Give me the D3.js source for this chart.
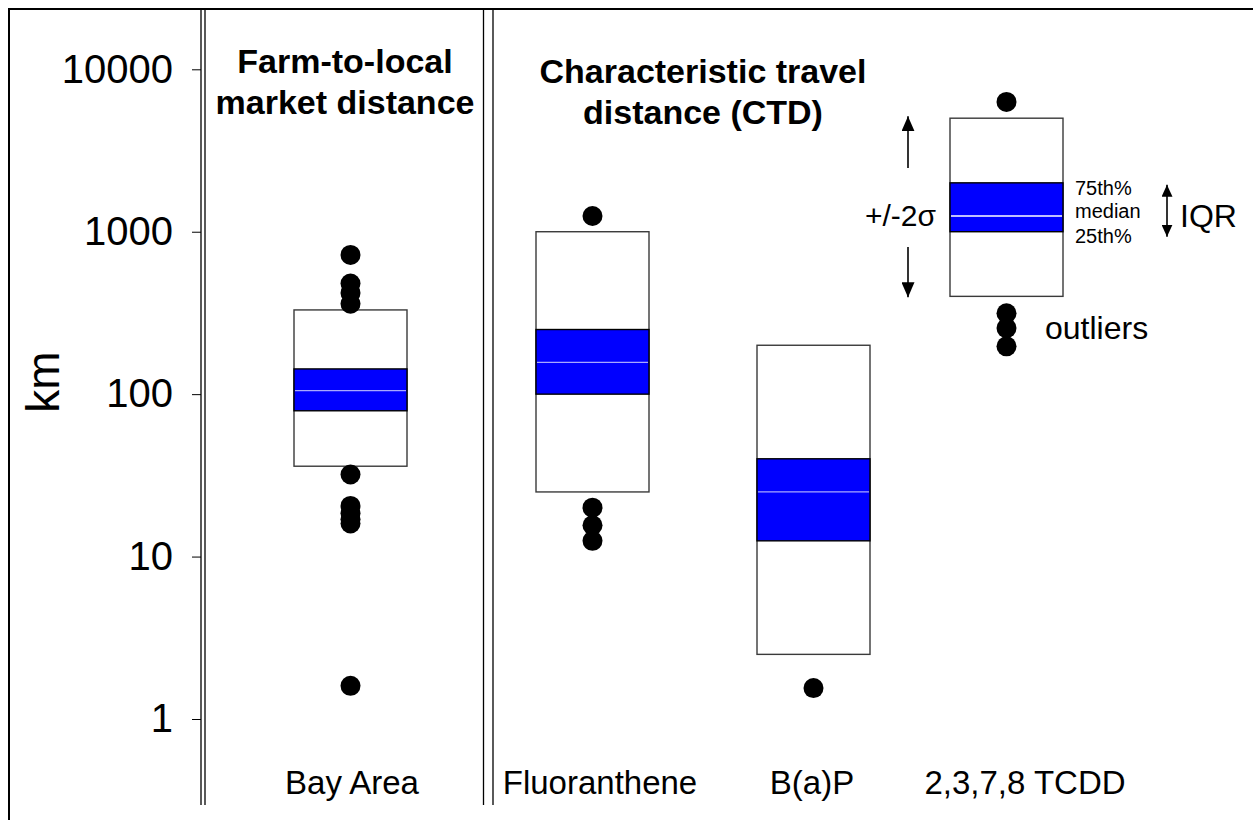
<!DOCTYPE html>
<html>
<head>
<meta charset="utf-8">
<script src="https://cdn.jsdelivr.net/npm/d3@7"></script>
<style>
  body { margin: 0; background: #fff; }
  text { font-family: Arial, "Liberation Sans", sans-serif; fill: #000; }
</style>
</head>
<body>
<div id="chart"></div>
<script>
// data (km, log scale)
const categories = ["Bay Area", "Fluoranthene", "B(a)P", "2,3,7,8 TCDD"];
const lowerSigma = [36, 25, 2.5, 400];     // -2 sigma (box bottom)
const upperSigma = [330, 1000, 200, 5000]; // +2 sigma (box top)
const q25 = [79, 100, 12.5, 1000];
const q75 = [143, 250, 40, 2000];
const medians = [105, 157, 25, 1250];
const outliers = [
  [720, 480, 420, 360, 32, 20.5, 18.5, 17, 16, 1.6],
  [1250, 20, 15.6, 12.5],
  [1.55],
  [6300, 315, 255, 197]
];
const yTicks = [1, 10, 100, 1000, 10000];

const width = 1253, height = 820;

const svg = d3.select("#chart").append("svg")
  .attr("width", width)
  .attr("height", height);

var y = d3.scaleLog()
  .domain([1, 10000])
  .range([719, 69.3]);

// box centres are not evenly spaced in the original
var x = d3.scaleOrdinal()
  .domain(categories)
  .range([350.5, 592.5, 813.5, 1006.5]);

var labelX = d3.scaleOrdinal()
  .domain(categories)
  .range([352, 600, 812, 1025]);

const boxW = 113, dotR = 10;

// frame (only left + top edges are in the picture)
svg.append("path")
  .attr("d", "M9,820V9H1253")
  .attr("fill", "none")
  .attr("stroke", "#000")
  .attr("stroke-width", 2);

// double vertical rules
[201, 205, 483.5, 493].forEach(function(px) {
  svg.append("line")
    .attr("x1", px).attr("x2", px)
    .attr("y1", 10).attr("y2", 805)
    .attr("stroke", "#000")
    .attr("stroke-width", 1.3);
});

// y axis
var yAxis = svg.append("g")
  .attr("transform", "translate(201,0)")
  .call(d3.axisLeft(y).tickValues(yTicks).tickFormat(d3.format("d")).tickSize(9).tickPadding(19));
yAxis.select(".domain").remove();
yAxis.selectAll("line").attr("stroke", "#000");
yAxis.selectAll("text")
  .style("font-size", "40px")
  .attr("font-family", null);

svg.append("text")
  .attr("transform", "translate(59,382) rotate(-90)")
  .attr("text-anchor", "middle")
  .style("font-size", "46px")
  .text("km");

// panel titles
function title(lines, cx, y0) {
  var t = svg.append("text")
    .attr("text-anchor", "middle")
    .style("font-size", "34px")
    .style("font-weight", "bold");
  lines.forEach(function(l, i) {
    t.append("tspan").attr("x", cx).attr("y", y0 + i * 41).text(l);
  });
}
title(["Farm-to-local", "market distance"], 345, 73);
title(["Characteristic travel", "distance (CTD)"], 703, 83);

// boxes
const boxes = svg.append("g");
categories.forEach(function(c, i) {
  var cx = x(c);
  var g = boxes.append("g");
  g.append("rect")
    .attr("x", cx - boxW / 2)
    .attr("y", y(upperSigma[i]))
    .attr("width", boxW)
    .attr("height", y(lowerSigma[i]) - y(upperSigma[i]))
    .attr("fill", "#fff")
    .attr("stroke", "#3a3a3a")
    .attr("stroke-width", 1.4);
  g.append("rect")
    .attr("x", cx - boxW / 2)
    .attr("y", y(q75[i]))
    .attr("width", boxW)
    .attr("height", y(q25[i]) - y(q75[i]))
    .attr("fill", "#0000ff")
    .attr("stroke", "#000")
    .attr("stroke-width", 1.4);
  g.append("line")
    .attr("x1", cx - boxW / 2 + 1).attr("x2", cx + boxW / 2 - 1)
    .attr("y1", y(medians[i])).attr("y2", y(medians[i]))
    .attr("stroke", i === 3 ? "#ffffff" : "#a8a8ff")
    .attr("stroke-width", 1.3);
  g.selectAll(".dot")
    .data(outliers[i])
    .enter()
    .append("circle")
    .attr("class", "dot")
    .attr("cx", cx)
    .attr("cy", function(d) { return y(d); })
    .attr("r", dotR)
    .attr("fill", "#000");
});

// category labels
svg.selectAll(".cat")
  .data(categories)
  .enter()
  .append("text")
  .attr("class", "cat")
  .attr("x", function(d) { return labelX(d); })
  .attr("y", 794)
  .attr("text-anchor", "middle")
  .style("font-size", "33px")
  .text(function(d) { return d; });

// legend annotations on the TCDD box
var defs = svg.append("defs");
function marker(id, len, wid) {
  defs.append("marker")
    .attr("id", id)
    .attr("viewBox", "0 0 " + len + " " + wid)
    .attr("refX", len).attr("refY", wid / 2)
    .attr("markerWidth", len).attr("markerHeight", wid)
    .attr("markerUnits", "userSpaceOnUse")
    .attr("orient", "auto-start-reverse")
    .append("path")
    .attr("d", "M0,0L" + len + "," + (wid / 2) + "L0," + wid + "Z")
    .attr("fill", "#000");
}
marker("head", 15, 13);
marker("headSmall", 12, 11);

var L = 3, ax = 908;
svg.append("line")
  .attr("x1", ax).attr("x2", ax)
  .attr("y1", 168).attr("y2", y(upperSigma[L]) - 2)
  .attr("stroke", "#000").attr("stroke-width", 1.6)
  .attr("marker-end", "url(#head)");
svg.append("line")
  .attr("x1", ax).attr("x2", ax)
  .attr("y1", 247).attr("y2", y(lowerSigma[L]) + 1)
  .attr("stroke", "#000").attr("stroke-width", 1.6)
  .attr("marker-end", "url(#head)");
svg.append("text")
  .attr("x", 936).attr("y", y(medians[L]) + 10)
  .attr("text-anchor", "end")
  .style("font-size", "30px")
  .text("+/-2\u03c3");

svg.append("line")
  .attr("x1", 1167).attr("x2", 1167)
  .attr("y1", y(q75[L]) + 2).attr("y2", y(q25[L]) + 5)
  .attr("stroke", "#000").attr("stroke-width", 1.6)
  .attr("marker-start", "url(#headSmall)")
  .attr("marker-end", "url(#headSmall)");
svg.append("text")
  .attr("x", 1180).attr("y", y(medians[L]) + 11)
  .style("font-size", "32px")
  .text("IQR");

[["75th%", 195], ["median", 218], ["25th%", 243]].forEach(function(d) {
  svg.append("text")
    .attr("x", 1075).attr("y", d[1])
    .style("font-size", "20px")
    .text(d[0]);
});

svg.append("text")
  .attr("x", 1045).attr("y", y(outliers[L][2]) + 11)
  .style("font-size", "32px")
  .text("outliers");
</script>
</body>
</html>
